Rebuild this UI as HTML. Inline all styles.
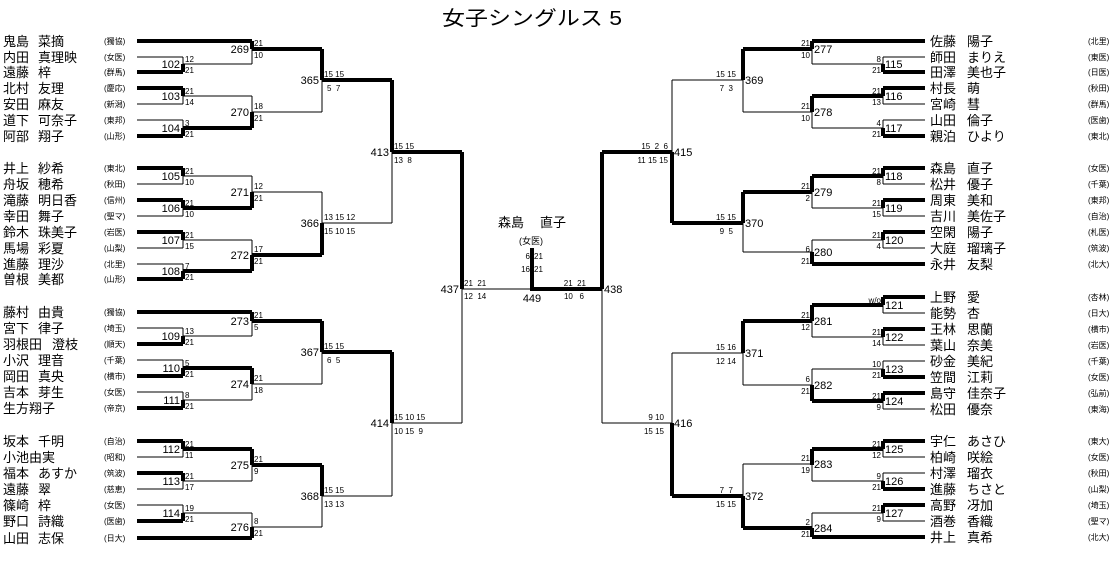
<!DOCTYPE html>
<html><head><meta charset="utf-8"><style>
html,body{margin:0;padding:0;background:#fff;}
svg{display:block;}
text{font-family:"Liberation Sans","Noto Sans CJK JP",sans-serif;fill:#000;}
.n{font-size:13px;}
.a{font-size:8px;}
.m{font-size:11px;}
.s{font-size:8px;}
.ml{font-size:11px;text-anchor:end;}
.sr{font-size:8px;text-anchor:end;}
</style></head><body>
<svg width="1120" height="561" viewBox="0 0 1120 561" xmlns="http://www.w3.org/2000/svg">
<text x="532" y="25" style="font-size:20px" text-anchor="middle" textLength="180" lengthAdjust="spacingAndGlyphs">女子シングルス 5</text>

<g fill="none" stroke="#000" stroke-width="1.3" shape-rendering="crispEdges">
<path d="M137 57H183M137 104H183M137 120H183M137 184H183M137 216H183M137 248H183M137 264H183M137 328H183M137 360H183M137 392H183M137 457H183M137 489H183M137 505H183
M183 57V72M183 88V104M183 120V136M183 168V184M183 200V216M183 232V248M183 264V279M183 328V344M183 360V376M183 392V408M183 441V457M183 473V489M183 505V521
M183 64H252M183 96H252M183 176H252M183 240H252M183 336H252M183 400H252M183 481H252M183 513H252
M252 41V64M252 96V128M252 176V208M252 240V271M252 312V336M252 368V400M252 449V481M252 513V538
M252 112H322M252 192H322M252 384H322M252 527H322
M322 49V112M322 192V255M322 321V384M322 465V527
M322 223H392M322 496H392
M392 80V223M392 352V496
M392 423H462M462 152V423M462 289H532
M602 152V423M602 423H672
M672 80V223M672 353V496
M672 80H743M672 353H743
M743 49V112M743 192V252M743 321V385M743 464V528
M743 112H812M743 252H812M743 385H812M743 464H812
M812 41V64M812 96V128M812 176V208M812 240V264M812 305V337M812 369V401M812 449V481M812 513V537
M812 64H883M812 128H883M812 208H883M812 240H883M812 337H883M812 369H883M812 481H883M812 513H883
M883 57V72M883 88V104M883 120V136M883 168V184M883 200V216M883 232V248M883 297V313M883 329V345M883 361V377M883 393V409M883 441V457M883 473V489M883 505V521
M883 57H925M883 104H925M883 120H925M883 184H925M883 216H925M883 248H925M883 313H925M883 345H925M883 361H925M883 409H925M883 457H925M883 473H925M883 521H925"/>
</g>
<g fill="none" stroke="#000" stroke-width="4" shape-rendering="crispEdges">
<path d="M137 41H252M137 72H183M137 88H183M137 136H183M137 168H183M137 200H183M137 232H183M137 279H183M137 312H252M137 344H183M137 376H183M137 408H183M137 441H183M137 473H183M137 521H183M137 538H252
M183 64V72M183 88V96M183 128V136M183 168V176M183 200V208M183 232V240M183 271V279M183 336V344M183 368V376M183 400V408M183 441V449M183 473V481M183 513V521
M183 128H252M183 208H252M183 271H252M183 368H252M183 449H252
M252 41V49M252 112V128M252 192V208M252 255V271M252 312V321M252 368V384M252 449V465M252 527V538
M252 49H322M252 255H322M252 321H322M252 465H322
M322 49V80M322 223V255M322 321V352M322 465V496
M322 80H392M322 352H392
M392 80V152M392 352V423
M392 152H462M462 152V289
M532 248V289H602
M602 152V289M602 152H672
M672 152V223M672 423V496
M672 223H743M672 496H743
M743 49V80M743 192V223M743 321V353M743 496V528
M743 49H812M743 192H812M743 321H812M743 528H812
M812 41V49M812 96V112M812 176V192M812 252V264M812 305V321M812 385V401M812 449V465M812 528V537
M812 41H925M812 264H925M812 537H925
M812 96H883M812 176H883M812 305H883M812 401H883M812 449H883
M883 64V72M883 88V96M883 128V136M883 168V176M883 200V208M883 232V240M883 297V305M883 329V337M883 369V377M883 393V401M883 441V449M883 481V489M883 505V513
M883 72H925M883 88H925M883 136H925M883 168H925M883 200H925M883 232H925M883 297H925M883 329H925M883 377H925M883 393H925M883 441H925M883 489H925M883 505H925"/>
</g>

<!-- left names -->
<g class="n">
<text x="3" y="46">鬼島<tspan x="38">菜摘</tspan></text>
<text x="3" y="62">内田<tspan x="38">真理映</tspan></text>
<text x="3" y="77">遠藤<tspan x="38">梓</tspan></text>
<text x="3" y="93">北村<tspan x="38">友理</tspan></text>
<text x="3" y="109">安田<tspan x="38">麻友</tspan></text>
<text x="3" y="125">道下<tspan x="38">可奈子</tspan></text>
<text x="3" y="141">阿部<tspan x="38">翔子</tspan></text>
<text x="3" y="173">井上<tspan x="38">紗希</tspan></text>
<text x="3" y="189">舟坂<tspan x="38">穂希</tspan></text>
<text x="3" y="205">滝藤<tspan x="38">明日香</tspan></text>
<text x="3" y="221">幸田<tspan x="38">舞子</tspan></text>
<text x="3" y="237">鈴木<tspan x="38">珠美子</tspan></text>
<text x="3" y="253">馬場<tspan x="38">彩夏</tspan></text>
<text x="3" y="269">進藤<tspan x="38">理沙</tspan></text>
<text x="3" y="284">曽根<tspan x="38">美都</tspan></text>
<text x="3" y="317">藤村<tspan x="38">由貴</tspan></text>
<text x="3" y="333">宮下<tspan x="38">律子</tspan></text>
<text x="3" y="349">羽根田<tspan x="52">澄枝</tspan></text>
<text x="3" y="365">小沢<tspan x="38">理音</tspan></text>
<text x="3" y="381">岡田<tspan x="38">真央</tspan></text>
<text x="3" y="397">吉本<tspan x="38">芽生</tspan></text>
<text x="3" y="413">生方翔子</text>
<text x="3" y="446">坂本<tspan x="38">千明</tspan></text>
<text x="3" y="462">小池由実</text>
<text x="3" y="478">福本<tspan x="38">あすか</tspan></text>
<text x="3" y="494">遠藤<tspan x="38">翠</tspan></text>
<text x="3" y="510">篠崎<tspan x="38">梓</tspan></text>
<text x="3" y="526">野口<tspan x="38">詩織</tspan></text>
<text x="3" y="543">山田<tspan x="38">志保</tspan></text>
</g>
<g class="a">
<text x="104" y="44">(獨協)</text><text x="104" y="60">(女医)</text><text x="104" y="75">(群馬)</text><text x="104" y="91">(慶応)</text><text x="104" y="107">(新潟)</text><text x="104" y="123">(東邦)</text><text x="104" y="139">(山形)</text>
<text x="104" y="171">(東北)</text><text x="104" y="187">(秋田)</text><text x="104" y="203">(信州)</text><text x="104" y="219">(聖マ)</text><text x="104" y="235">(岩医)</text><text x="104" y="251">(山梨)</text><text x="104" y="267">(北里)</text><text x="104" y="282">(山形)</text>
<text x="104" y="315">(獨協)</text><text x="104" y="331">(埼玉)</text><text x="104" y="347">(順天)</text><text x="104" y="363">(千葉)</text><text x="104" y="379">(横市)</text><text x="104" y="395">(女医)</text><text x="104" y="411">(帝京)</text>
<text x="104" y="444">(自治)</text><text x="104" y="460">(昭和)</text><text x="104" y="476">(筑波)</text><text x="104" y="492">(慈恵)</text><text x="104" y="508">(女医)</text><text x="104" y="524">(医歯)</text><text x="104" y="541">(日大)</text>
</g>

<!-- right names -->
<g class="n">
<text x="930" y="46">佐藤<tspan x="967">陽子</tspan></text>
<text x="930" y="62">師田<tspan x="967">まりえ</tspan></text>
<text x="930" y="77">田澤<tspan x="967">美也子</tspan></text>
<text x="930" y="93">村長<tspan x="967">萌</tspan></text>
<text x="930" y="109">宮崎<tspan x="967">彗</tspan></text>
<text x="930" y="125">山田<tspan x="967">倫子</tspan></text>
<text x="930" y="141">親泊<tspan x="967">ひより</tspan></text>
<text x="930" y="173">森島<tspan x="967">直子</tspan></text>
<text x="930" y="189">松井<tspan x="967">優子</tspan></text>
<text x="930" y="205">周東<tspan x="967">美和</tspan></text>
<text x="930" y="221">吉川<tspan x="967">美佐子</tspan></text>
<text x="930" y="237">空閑<tspan x="967">陽子</tspan></text>
<text x="930" y="253">大庭<tspan x="967">瑠璃子</tspan></text>
<text x="930" y="269">永井<tspan x="967">友梨</tspan></text>
<text x="930" y="302">上野<tspan x="967">愛</tspan></text>
<text x="930" y="318">能勢<tspan x="967">杏</tspan></text>
<text x="930" y="334">王林<tspan x="967">思蘭</tspan></text>
<text x="930" y="350">葉山<tspan x="967">奈美</tspan></text>
<text x="930" y="366">砂金<tspan x="967">美紀</tspan></text>
<text x="930" y="382">笠間<tspan x="967">江莉</tspan></text>
<text x="930" y="398">島守<tspan x="967">佳奈子</tspan></text>
<text x="930" y="414">松田<tspan x="967">優奈</tspan></text>
<text x="930" y="446">宇仁<tspan x="967">あさひ</tspan></text>
<text x="930" y="462">柏崎<tspan x="967">咲絵</tspan></text>
<text x="930" y="478">村澤<tspan x="967">瑠衣</tspan></text>
<text x="930" y="494">進藤<tspan x="967">ちさと</tspan></text>
<text x="930" y="510">高野<tspan x="967">冴加</tspan></text>
<text x="930" y="526">酒巻<tspan x="967">香織</tspan></text>
<text x="930" y="542">井上<tspan x="967">真希</tspan></text>
</g>
<g class="a">
<text x="1088" y="44">(北里)</text><text x="1088" y="60">(東医)</text><text x="1088" y="75">(日医)</text><text x="1088" y="91">(秋田)</text><text x="1088" y="107">(群馬)</text><text x="1088" y="123">(医歯)</text><text x="1088" y="139">(東北)</text>
<text x="1088" y="171">(女医)</text><text x="1088" y="187">(千葉)</text><text x="1088" y="203">(東邦)</text><text x="1088" y="219">(自治)</text><text x="1088" y="235">(札医)</text><text x="1088" y="251">(筑波)</text><text x="1088" y="267">(北大)</text>
<text x="1088" y="300">(杏林)</text><text x="1088" y="316">(日大)</text><text x="1088" y="332">(横市)</text><text x="1088" y="348">(岩医)</text><text x="1088" y="364">(千葉)</text><text x="1088" y="380">(女医)</text><text x="1088" y="396">(弘前)</text><text x="1088" y="412">(東海)</text>
<text x="1088" y="444">(東大)</text><text x="1088" y="460">(女医)</text><text x="1088" y="476">(秋田)</text><text x="1088" y="492">(山梨)</text><text x="1088" y="508">(埼玉)</text><text x="1088" y="524">(聖マ)</text><text x="1088" y="540">(北大)</text>
</g>

<!-- left match numbers -->
<g class="ml">
<text x="180" y="68">102</text><text x="180" y="100">103</text><text x="180" y="132">104</text><text x="180" y="180">105</text><text x="180" y="212">106</text><text x="180" y="244">107</text><text x="180" y="275">108</text><text x="180" y="340">109</text><text x="180" y="372">110</text><text x="180" y="404">111</text><text x="180" y="453">112</text><text x="180" y="485">113</text><text x="180" y="517">114</text>
<text x="249" y="53">269</text><text x="249" y="116">270</text><text x="249" y="196">271</text><text x="249" y="259">272</text><text x="249" y="325">273</text><text x="249" y="388">274</text><text x="249" y="469">275</text><text x="249" y="531">276</text>
<text x="319" y="84">365</text><text x="319" y="227">366</text><text x="319" y="356">367</text><text x="319" y="500">368</text>
<text x="389" y="156">413</text><text x="389" y="427">414</text><text x="459" y="293">437</text>
</g>
<!-- left scores -->
<g class="s">
<text x="185" y="62">12</text><text x="185" y="73">21</text>
<text x="185" y="94">21</text><text x="185" y="105">14</text>
<text x="185" y="126">3</text><text x="185" y="137">21</text>
<text x="185" y="174">21</text><text x="185" y="185">10</text>
<text x="185" y="206">21</text><text x="185" y="217">10</text>
<text x="185" y="238">21</text><text x="185" y="249">15</text>
<text x="185" y="269">7</text><text x="185" y="280">21</text>
<text x="185" y="334">13</text><text x="185" y="345">21</text>
<text x="185" y="366">5</text><text x="185" y="377">21</text>
<text x="185" y="398">8</text><text x="185" y="409">21</text>
<text x="185" y="447">21</text><text x="185" y="458">11</text>
<text x="185" y="479">21</text><text x="185" y="490">17</text>
<text x="185" y="511">19</text><text x="185" y="522">21</text>
<text x="254" y="46">21</text><text x="254" y="58">10</text>
<text x="254" y="109">18</text><text x="254" y="121">21</text>
<text x="254" y="189">12</text><text x="254" y="201">21</text>
<text x="254" y="252">17</text><text x="254" y="264">21</text>
<text x="254" y="318">21</text><text x="254" y="330">5</text>
<text x="254" y="381">21</text><text x="254" y="393">18</text>
<text x="254" y="462">21</text><text x="254" y="474">9</text>
<text x="254" y="524">8</text><text x="254" y="536">21</text>
<text x="324" y="77">15 15</text><text x="327" y="91">5&#160;&#160;7</text>
<text x="324" y="220">13 15 12</text><text x="324" y="234">15 10 15</text>
<text x="324" y="349">15 15</text><text x="327" y="363">6&#160;&#160;5</text>
<text x="324" y="493">15 15</text><text x="324" y="507">13 13</text>
<text x="394" y="149">15 15</text><text x="394" y="163">13&#160;&#160;8</text>
<text x="394" y="420">15 10 15</text><text x="394" y="434">10 15&#160;&#160;9</text>
<text x="464" y="286">21&#160;&#160;21</text><text x="464" y="299">12&#160;&#160;14</text>
</g>

<!-- right match numbers -->
<g class="m">
<text x="885" y="68">115</text><text x="885" y="100">116</text><text x="885" y="132">117</text><text x="885" y="180">118</text><text x="885" y="212">119</text><text x="885" y="244">120</text><text x="885" y="309">121</text><text x="885" y="341">122</text><text x="885" y="373">123</text><text x="885" y="405">124</text><text x="885" y="453">125</text><text x="885" y="485">126</text><text x="885" y="517">127</text>
<text x="814" y="53">277</text><text x="814" y="116">278</text><text x="814" y="196">279</text><text x="814" y="256">280</text><text x="814" y="325">281</text><text x="814" y="389">282</text><text x="814" y="468">283</text><text x="814" y="532">284</text>
<text x="745" y="84">369</text><text x="745" y="227">370</text><text x="745" y="357">371</text><text x="745" y="500">372</text>
<text x="674" y="156">415</text><text x="674" y="427">416</text><text x="604" y="293">438</text>
</g>
<!-- right scores -->
<g class="sr">
<text x="881" y="62">8</text><text x="881" y="73">21</text>
<text x="881" y="94">21</text><text x="881" y="105">13</text>
<text x="881" y="126">4</text><text x="881" y="137">21</text>
<text x="881" y="174">21</text><text x="881" y="185">8</text>
<text x="881" y="206">21</text><text x="881" y="217">15</text>
<text x="881" y="238">21</text><text x="881" y="249">4</text>
<text x="881" y="303">w/o</text>
<text x="881" y="335">21</text><text x="881" y="346">14</text>
<text x="881" y="367">10</text><text x="881" y="378">21</text>
<text x="881" y="399">21</text><text x="881" y="410">9</text>
<text x="881" y="447">21</text><text x="881" y="458">12</text>
<text x="881" y="479">9</text><text x="881" y="490">21</text>
<text x="881" y="511">21</text><text x="881" y="522">9</text>
<text x="810" y="46">21</text><text x="810" y="58">10</text>
<text x="810" y="109">21</text><text x="810" y="121">10</text>
<text x="810" y="189">21</text><text x="810" y="201">2</text>
<text x="810" y="252">6</text><text x="810" y="264">21</text>
<text x="810" y="318">21</text><text x="810" y="330">12</text>
<text x="810" y="382">6</text><text x="810" y="394">21</text>
<text x="810" y="461">21</text><text x="810" y="473">19</text>
<text x="810" y="525">2</text><text x="810" y="537">21</text>
<text x="736" y="77">15 15</text><text x="733" y="91">7&#160;&#160;3</text>
<text x="736" y="220">15 15</text><text x="733" y="234">9&#160;&#160;5</text>
<text x="736" y="350">15 16</text><text x="736" y="364">12 14</text>
<text x="733" y="493">7&#160;&#160;7</text><text x="736" y="507">15 15</text>
<text x="668" y="149">15&#160;&#160;2&#160;&#160;6</text><text x="668" y="163">11 15 15</text>
<text x="664" y="420">9 10</text><text x="664" y="434">15 15</text>
<text x="586" y="286">21&#160;&#160;21</text><text x="584" y="299">10&#160;&#160;&#160;6</text>
<text x="530" y="259">6</text><text x="530" y="272">16</text>
</g>
<g class="s">
<text x="534" y="259">21</text><text x="534" y="272">21</text>
</g>
<text x="498" y="227" style="font-size:13px">森島<tspan x="540">直子</tspan></text>
<text x="531" y="244" style="font-size:9px" text-anchor="middle">(女医)</text>
<text x="532" y="302" style="font-size:11px" text-anchor="middle">449</text>
</svg>
</body></html>
